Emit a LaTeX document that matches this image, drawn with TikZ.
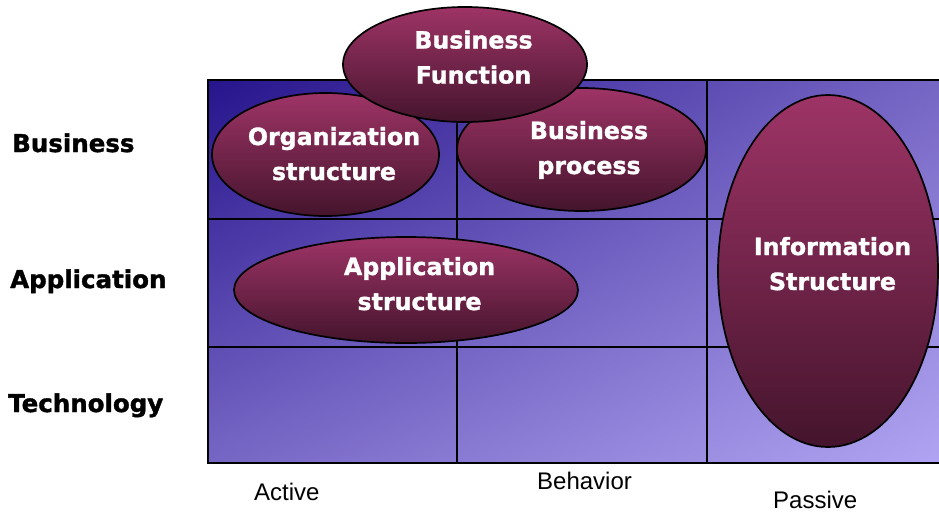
\documentclass[tikz,border=0pt]{standalone}
\usepackage{fontspec}
\setmainfont{Liberation Sans}
\newfontfamily\dvsans{DejaVu Sans}[FakeBold=1.3]
\newfontfamily\dvlabel{DejaVu Sans}[FakeBold=1.5]
\usetikzlibrary{shapes.geometric,shadings}
\definecolor{gridA}{RGB}{38,20,140}
\definecolor{gridB}{RGB}{118,102,196}
\definecolor{gridC}{RGB}{176,164,242}
\definecolor{ellTop}{RGB}{158,52,102}
\definecolor{ellBot}{RGB}{68,20,44}
\tikzset{
  blob/.style={ellipse, draw=black, line width=1.7pt, inner sep=0pt,
    top color=ellTop, bottom color=ellBot},
  blobtext/.style={anchor=base, align=center, text=white,
    font=\dvsans\bfseries\fontsize{23.7}{35}\selectfont},
  rowlabel/.style={anchor=base west, font=\dvlabel\bfseries\fontsize{24.5}{28}\selectfont},
  collabel/.style={anchor=base west, font=\fontsize{24}{28}\selectfont},
  gridline/.style={line width=1.5pt, black}
}
\begin{document}
\begin{tikzpicture}[x=1pt,y=-1pt]
\useasboundingbox (0,0) rectangle (939,512);
% grid background
\shade[upper left=gridA, upper right=gridB, lower left=gridB, lower right=gridC]
  (208,80) rectangle (939,463);
% grid lines
\coordinate (tl) at (208,80);
\coordinate (tr) at (939,80);
\coordinate (bl) at (208,463);
\coordinate (br) at (939,463);
\draw[gridline] (tr) -- (tl) -- (bl) -- (br);
\coordinate (r1l) at (208,219); \coordinate (r1r) at (939,219);
\coordinate (r2l) at (208,347); \coordinate (r2r) at (939,347);
\coordinate (c1t) at (457,80); \coordinate (c1b) at (457,463);
\coordinate (c2t) at (707,80); \coordinate (c2b) at (707,463);
\draw[gridline] (r1l) -- (r1r);
\draw[gridline] (r2l) -- (r2r);
\draw[gridline] (c1t) -- (c1b);
\draw[gridline] (c2t) -- (c2b);
% ellipses
\node[blob, minimum width=227, minimum height=123] (org) at (325.5,154.5) {};
\node[blob, minimum width=249, minimum height=123] (proc) at (581.5,149.5) {};
\node[blob, minimum width=244, minimum height=115] (func) at (465,64.5) {};
\node[blob, minimum width=344, minimum height=106] (app) at (406,290) {};
\node[blob, minimum width=220, minimum height=352] (info) at (828,271) {};
% ellipse texts
\node[blobtext] (orgt) at (334,180) {Organization\\structure};
\node[blobtext] (proct) at (589,174) {Business\\process};
\node[blobtext] (funct) at (473.5,83.5) {Business\\Function};
\node[blobtext] (appt) at (419.5,310) {Application\\structure};
\node[blobtext] (infot) at (832.5,290) {Information\\Structure};
% row labels
\node[rowlabel, inner sep=0pt] (lbus) at (12,152) {Business};
\node[rowlabel, inner sep=0pt] (lapp) at (10,288) {Application};
\node[rowlabel, inner sep=0pt] (ltech) at (8,412) {Technology};
% column labels
\node[collabel, inner sep=0pt] (lact) at (254,500) {Active};
\node[collabel, inner sep=0pt] (lbeh) at (537,489) {Behavior};
\node[collabel, inner sep=0pt] (lpas) at (773,508) {Passive};
\end{tikzpicture}
\end{document}
